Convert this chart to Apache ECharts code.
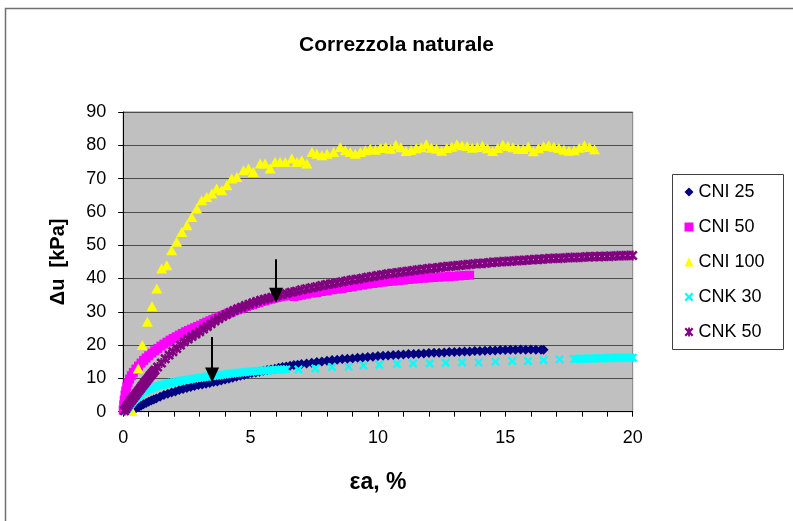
<!DOCTYPE html>
<html>
<head>
<meta charset="utf-8">
<script src="https://cdn.jsdelivr.net/npm/echarts@6/dist/echarts.min.js"></script>
<style>
  html, body { margin: 0; padding: 0; background: #ffffff; }
  #chart { width: 793px; height: 521px; }
</style>
</head>
<body>
<div id="chart"></div>
<script>
// Pore pressure change Δu [kPa] against axial strain εa [%]
const chartTitle = 'Correzzola naturale';
const xAxisName = 'εa, %';
const yAxisName = 'Δu  [kPa]';
const seriesNames = ['CNI 25', 'CNI 50', 'CNI 100', 'CNK 30', 'CNK 50'];

// [εa %, Δu kPa]
const cni25 = [
  [0.3,0.3],[0.4,0.6],[0.5,1.0],[0.6,1.4],[0.7,1.8],[0.8,2.2],[0.9,2.6],[1.0,3.0],[1.1,3.4],[1.2,3.7],
  [1.3,4.0],[1.45,4.5],[1.6,5.0],[1.75,5.4],[1.9,5.8],[2.05,6.1],[2.2,6.5],[2.35,6.8],[2.5,7.1],[2.65,7.4],
  [2.8,7.7],[2.95,8.0],[3.1,8.2],[3.25,8.4],[3.4,8.6],[3.55,8.9],[3.7,9.1],[3.85,9.4],[4.0,9.7],[4.15,9.9],
  [4.3,10.2],[4.45,10.5],[4.6,10.8],[4.75,11.0],[4.9,11.3],[5.05,11.6],[5.2,11.8],[5.35,12.0],[5.5,12.3],[5.65,12.5],
  [5.8,12.7],[5.95,12.9],[6.1,13.2],[6.25,13.4],[6.4,13.6],[6.55,13.8],[6.7,14.0],[6.85,14.1],[7.0,14.3],[7.2,14.5],
  [7.4,14.7],[7.6,14.9],[7.8,15.1],[8.0,15.3],[8.2,15.5],[8.4,15.6],[8.6,15.8],[8.8,15.9],[9.0,16.0],[9.2,16.2],
  [9.4,16.3],[9.6,16.4],[9.8,16.5],[10.0,16.7],[10.2,16.8],[10.4,16.9],[10.6,17.0],[10.8,17.1],[11.0,17.2],[11.2,17.3],
  [11.4,17.3],[11.6,17.4],[11.8,17.5],[12.0,17.6],[12.2,17.7],[12.4,17.7],[12.6,17.8],[12.8,17.9],[13.0,17.9],[13.2,18.0],
  [13.4,18.1],[13.6,18.1],[13.8,18.2],[14.0,18.2],[14.2,18.3],[14.4,18.4],[14.6,18.4],[14.8,18.5],[15.0,18.5],[15.2,18.6],
  [15.4,18.6],[15.6,18.7],[15.8,18.6],[16.0,18.7],[16.2,18.6],[16.4,18.6],[16.5,18.6]
];

const cni50 = [
  [0.0,0.5],[0.02,2.0],[0.04,3.5],[0.07,5.0],[0.1,6.3],[0.14,7.5],[0.19,8.7],[0.25,9.8],[0.32,10.8],[0.4,11.8],
  [0.5,12.8],[0.6,13.7],[0.7,14.6],[0.8,15.4],[0.9,16.1],[1.0,16.8],[1.12,17.6],[1.24,18.3],[1.36,19.0],[1.48,19.7],
  [1.6,20.3],[1.72,20.9],[1.84,21.5],[1.96,22.0],[2.08,22.5],[2.2,23.0],[2.32,23.5],[2.44,24.0],[2.56,24.4],[2.68,24.8],
  [2.8,25.2],[2.92,25.6],[3.04,26.0],[3.16,26.5],[3.28,26.9],[3.4,27.3],[3.52,27.7],[3.64,28.1],[3.76,28.5],[3.88,28.8],
  [4.0,29.2],[4.12,29.6],[4.24,29.9],[4.36,30.3],[4.48,30.6],[4.6,30.9],[4.72,31.3],[4.84,31.6],[4.96,31.9],[5.08,32.2],
  [5.2,32.5],[5.32,32.8],[5.44,33.1],[5.56,33.3],[5.68,33.6],[5.8,33.8],[5.92,34.1],[6.04,34.3],[6.16,34.5],[6.28,34.7],
  [6.4,34.9],[6.55,34.8],[6.7,34.6],[6.85,34.8],[7.0,35.0],[7.2,35.3],[7.4,35.6],[7.6,35.8],[7.8,36.1],[8.0,36.3],
  [8.2,36.6],[8.4,36.8],[8.6,37.0],[8.8,37.3],[9.0,37.5],[9.2,37.8],[9.4,38.0],[9.6,38.3],[9.8,38.5],[10.0,38.7],
  [10.2,38.9],[10.4,39.1],[10.6,39.2],[10.8,39.4],[11.0,39.5],[11.2,39.7],[11.4,39.8],[11.6,40.0],[11.8,40.1],[12.0,40.2],
  [12.2,40.3],[12.4,40.4],[12.6,40.5],[12.8,40.6],[13.0,40.7],[13.2,40.8],[13.4,40.9],[13.6,41.0]
];

const cni100 = [
  [0.35,0.2],[0.59,13.0],[0.75,20.0],[0.95,27.0],[1.13,31.7],[1.32,37.0],[1.51,43.0],[1.71,44.0],[1.9,48.5],[2.1,51.0],
  [2.3,54.0],[2.5,56.0],[2.69,58.5],[2.89,61.0],[3.08,63.5],[3.28,64.5],[3.48,65.5],[3.67,67.0],[3.87,66.5],[4.07,68.0],
  [4.26,70.0],[4.46,70.5],[4.72,72.5],[4.92,73.0],[5.11,72.0],[5.38,74.5],[5.57,74.5],[5.77,73.0],[5.96,75.0],[6.16,75.0],
  [6.36,75.0],[6.62,76.0],[6.82,75.0],[7.01,75.5],[7.21,74.5],[7.41,78.0],[7.6,77.5],[7.8,77.0],[8.0,77.5],[8.26,78.0],
  [8.52,79.5],[8.72,78.5],[8.91,78.0],[9.11,77.5],[9.31,78.0],[9.5,78.5],[9.7,79.0],[9.9,78.7],[10.1,79.2],[10.3,79.5],
  [10.5,79.0],[10.7,80.2],[10.9,79.4],[11.1,78.3],[11.3,78.6],[11.5,79.1],[11.7,79.4],[11.9,80.3],[12.1,79.3],[12.3,79.0],
  [12.5,78.4],[12.7,79.2],[12.9,79.6],[13.1,80.3],[13.3,80.0],[13.5,79.8],[13.7,79.3],[13.9,79.5],[14.1,79.9],[14.3,79.1],
  [14.5,78.3],[14.7,79.2],[14.9,80.2],[15.1,79.8],[15.3,79.4],[15.5,79.0],[15.7,78.9],[15.9,79.6],[16.1,78.2],[16.3,79.1],
  [16.5,79.8],[16.7,80.0],[16.9,79.6],[17.1,79.2],[17.3,78.7],[17.5,78.4],[17.7,78.5],[17.9,79.3],[18.1,80.0],[18.3,79.5],
  [18.5,78.8]
];

const cnk30 = [
  [0.1,0.3],[0.15,0.8],[0.2,1.3],[0.25,1.8],[0.3,2.3],[0.35,2.8],[0.4,3.3],[0.45,3.7],[0.5,4.1],[0.55,4.5],
  [0.6,4.8],[0.65,5.1],[0.7,5.4],[0.8,5.9],[0.9,6.3],[1.0,6.7],[1.1,7.0],[1.2,7.3],[1.3,7.6],[1.4,7.8],
  [1.5,8.0],[1.6,8.2],[1.7,8.4],[1.8,8.6],[1.9,8.7],[2.0,8.9],[2.1,9.0],[2.2,9.2],[2.3,9.3],[2.4,9.5],
  [2.5,9.6],[2.6,9.7],[2.7,9.9],[2.8,10.0],[2.9,10.1],[3.0,10.2],[3.1,10.3],[3.2,10.4],[3.3,10.5],[3.4,10.6],
  [3.5,10.7],[3.6,10.8],[3.7,10.9],[3.8,11.0],[3.9,11.1],[4.0,11.2],[4.1,11.3],[4.2,11.4],[4.3,11.5],[4.4,11.6],
  [4.5,11.7],[4.6,11.8],[4.7,11.8],[4.8,11.9],[4.9,12.0],[5.0,12.0],[5.1,12.1],[5.2,12.2],[5.3,12.2],[5.4,12.3],
  [5.5,12.3],[5.6,12.4],[5.7,12.4],[5.8,12.5],[5.9,12.5],[6.0,12.6],[6.1,12.6],[6.2,12.7],[6.3,12.7],[6.4,12.7],
  [6.88,12.7],[7.54,13.0],[8.19,13.4],[8.85,13.5],[9.43,13.9],[10.05,14.1],[10.75,14.3],[11.38,14.5],[12.03,14.5],[12.66,14.7],
  [13.3,14.8],[13.95,14.8],[14.61,15.0],[15.27,15.2],[15.89,15.2],[16.5,15.5],[17.13,15.7],
  [17.7,15.8],[17.8,15.8],[17.9,15.9],[18.0,15.9],[18.1,15.9],[18.2,15.9],[18.3,16.0],[18.4,16.0],[18.5,16.0],[18.6,16.0],
  [18.7,16.0],[18.8,16.1],[18.9,16.1],[19.0,16.1],[19.1,16.1],[19.2,16.1],[19.3,16.1],[19.4,16.2],[19.5,16.2],[19.6,16.2],
  [19.7,16.2],[19.8,16.2],[19.9,16.2],[20.0,16.2]
];

const cnk50 = [
  [0.05,0.3],[0.1,0.9],[0.15,1.5],[0.2,2.1],[0.25,2.7],[0.3,3.2],[0.35,3.7],[0.4,4.2],[0.45,4.7],[0.5,5.2],
  [0.55,5.7],[0.6,6.2],[0.65,6.7],[0.7,7.2],[0.75,7.7],[0.8,8.2],[0.85,8.7],[0.9,9.2],[0.95,9.7],[1.0,10.2],
  [1.05,10.7],[1.1,11.2],[1.15,11.6],[1.2,12.1],[1.25,12.5],[1.35,13.4],[1.5,14.6],[1.65,15.9],[1.8,17.0],[1.95,18.0],
  [2.1,19.0],[2.25,20.0],[2.4,21.0],[2.55,21.8],[2.7,22.6],[2.85,23.3],[3.0,24.0],[3.15,24.8],[3.3,25.6],[3.45,26.4],
  [3.6,27.2],[3.75,27.9],[3.9,28.6],[4.05,29.2],[4.2,29.8],[4.35,30.4],[4.5,30.9],[4.65,31.4],[4.8,31.9],[4.95,32.3],
  [5.1,32.7],[5.25,33.1],[5.4,33.5],[5.55,33.8],[5.7,34.1],[5.85,34.4],[6.0,34.7],[6.2,35.1],[6.4,35.5],[6.6,35.9],
  [6.8,36.2],[7.0,36.6],[7.2,36.9],[7.4,37.2],[7.6,37.5],[7.8,37.9],[8.0,38.2],[8.2,38.4],[8.4,38.7],[8.6,39.0],
  [8.8,39.3],[9.0,39.6],[9.2,39.8],[9.4,40.1],[9.6,40.4],[9.8,40.6],[10.0,40.9],[10.2,41.1],[10.4,41.4],[10.6,41.6],
  [10.8,41.8],[11.0,42.0],[11.2,42.2],[11.4,42.4],[11.6,42.6],[11.8,42.8],[12.0,43.0],[12.2,43.1],[12.4,43.3],[12.6,43.5],
  [12.8,43.6],[13.0,43.8],[13.2,43.9],[13.4,44.1],[13.6,44.2],[13.8,44.4],[14.0,44.5],[14.2,44.6],[14.4,44.8],[14.6,44.9],
  [14.8,45.0],[15.0,45.1],[15.2,45.2],[15.4,45.3],[15.6,45.4],[15.8,45.5],[16.0,45.6],[16.2,45.7],[16.4,45.8],[16.6,45.9],
  [16.8,46.0],[17.0,46.1],[17.2,46.1],[17.4,46.2],[17.6,46.3],[17.8,46.3],[18.0,46.4],[18.2,46.5],[18.4,46.5],[18.6,46.6],
  [18.8,46.6],[19.0,46.7],[19.2,46.7],[19.4,46.8],[19.6,46.8],[19.8,46.9],[20.0,46.9]
];

// Arrows marking points on the curves: [from, to] in [εa, Δu]
const arrowMarks = [
  [[6.0, 45.8], [6.0, 35.0]],
  [[3.49, 22.4], [3.49, 11.0]]
];

const xTicks = { min: 0, max: 20, interval: 5 };
const yTicks = { min: 0, max: 90, interval: 10 };

const FONT = '"Liberation Sans", Arial, sans-serif';
const crossPath = 'path://M0,1.8L1.8,0L5,3.2L8.2,0L10,1.8L6.8,5L10,8.2L8.2,10L5,6.8L1.8,10L0,8.2L3.2,5Z';
const starPath = 'path://M0,1.8L1.8,0L5,3.2L8.2,0L10,1.8L6.8,5L10,8.2L8.2,10L5,6.8L1.8,10L0,8.2L3.2,5Z M4,0L6,0L6,10L4,10Z';

const chart = echarts.init(document.getElementById('chart'), null, { renderer: 'canvas' });

function scatter(name, data, symbol, size, color) {
  return {
    name: name,
    type: 'scatter',
    data: data,
    symbol: symbol,
    symbolSize: size,
    itemStyle: { color: color, opacity: 1 },
    emphasis: { disabled: true },
    animation: false
  };
}

const series = [
  scatter(seriesNames[0], cni25, 'diamond', 10, '#000080'),
  scatter(seriesNames[1], cni50, 'rect', 9, '#ff00ff'),
  scatter(seriesNames[2], cni100, 'triangle', [11, 10], '#ffff00'),
  scatter(seriesNames[3], cnk30, crossPath, 9, '#00ffff'),
  scatter(seriesNames[4], cnk50, starPath, 10, '#800080')
];

series[4].markLine = {
  silent: true,
  animation: false,
  symbol: ['none', 'triangle'],
  symbolSize: [14, 15],
  label: { show: false },
  lineStyle: { color: '#000000', width: 2, type: 'solid' },
  data: arrowMarks.map(a => [{ coord: a[0] }, { coord: a[1] }])
};

chart.setOption({
  animation: false,
  backgroundColor: '#ffffff',
  title: {
    text: chartTitle,
    left: 'center',
    top: 35,
    padding: 0,
    textStyle: { fontFamily: FONT, fontSize: 21, fontWeight: 'bold', color: '#000000' }
  },
  legend: {
    orient: 'vertical',
    left: 684.5,
    top: 183,
    padding: 0,
    itemWidth: 9,
    itemHeight: 9,
    itemGap: 17,
    data: seriesNames,
    textStyle: { fontFamily: FONT, fontSize: 18, lineHeight: 18, color: '#000000' }
  },
  grid: {
    left: 123.2,
    right: 160.3,
    top: 112,
    bottom: 109.3,
    show: true,
    backgroundColor: '#c0c0c0',
    borderColor: '#808080',
    borderWidth: 1
  },
  xAxis: {
    type: 'value',
    min: xTicks.min,
    max: xTicks.max,
    interval: xTicks.interval,
    name: xAxisName,
    nameLocation: 'middle',
    nameGap: 59,
    nameTextStyle: { fontFamily: FONT, fontSize: 23, fontWeight: 'bold', color: '#000000' },
    axisLine: { show: true, onZero: false, lineStyle: { color: '#000000', width: 1 } },
    axisTick: { show: true, inside: false, length: 5, lineStyle: { color: '#000000' } },
    minorTick: { show: true, splitNumber: 5, length: 5, lineStyle: { color: '#000000' } },
    axisLabel: { margin: 17, fontFamily: FONT, fontSize: 18, color: '#000000' },
    splitLine: { show: false }
  },
  yAxis: {
    type: 'value',
    min: yTicks.min,
    max: yTicks.max,
    interval: yTicks.interval,
    name: yAxisName,
    nameLocation: 'middle',
    nameGap: 55,
    nameTextStyle: { fontFamily: FONT, fontSize: 20, fontWeight: 'bold', color: '#000000' },
    axisLine: { show: true, onZero: false, lineStyle: { color: '#000000', width: 1 } },
    axisTick: { show: true, inside: false, length: 5, lineStyle: { color: '#000000' } },
    axisLabel: { margin: 17, fontFamily: FONT, fontSize: 18, color: '#000000' },
    splitLine: { show: true, lineStyle: { color: '#4d4d4d', width: 1 } }
  },
  graphic: [
    {
      type: 'rect',
      silent: true,
      shape: { x: 5.5, y: 8.5, width: 900, height: 700 },
      style: { fill: 'none', stroke: '#707070', lineWidth: 1.5 }
    },
    {
      type: 'rect',
      silent: true,
      shape: { x: 672.5, y: 174.5, width: 111, height: 175 },
      style: { fill: 'none', stroke: '#404040', lineWidth: 1 }
    }
  ],
  series: series
});
</script>
</body>
</html>
